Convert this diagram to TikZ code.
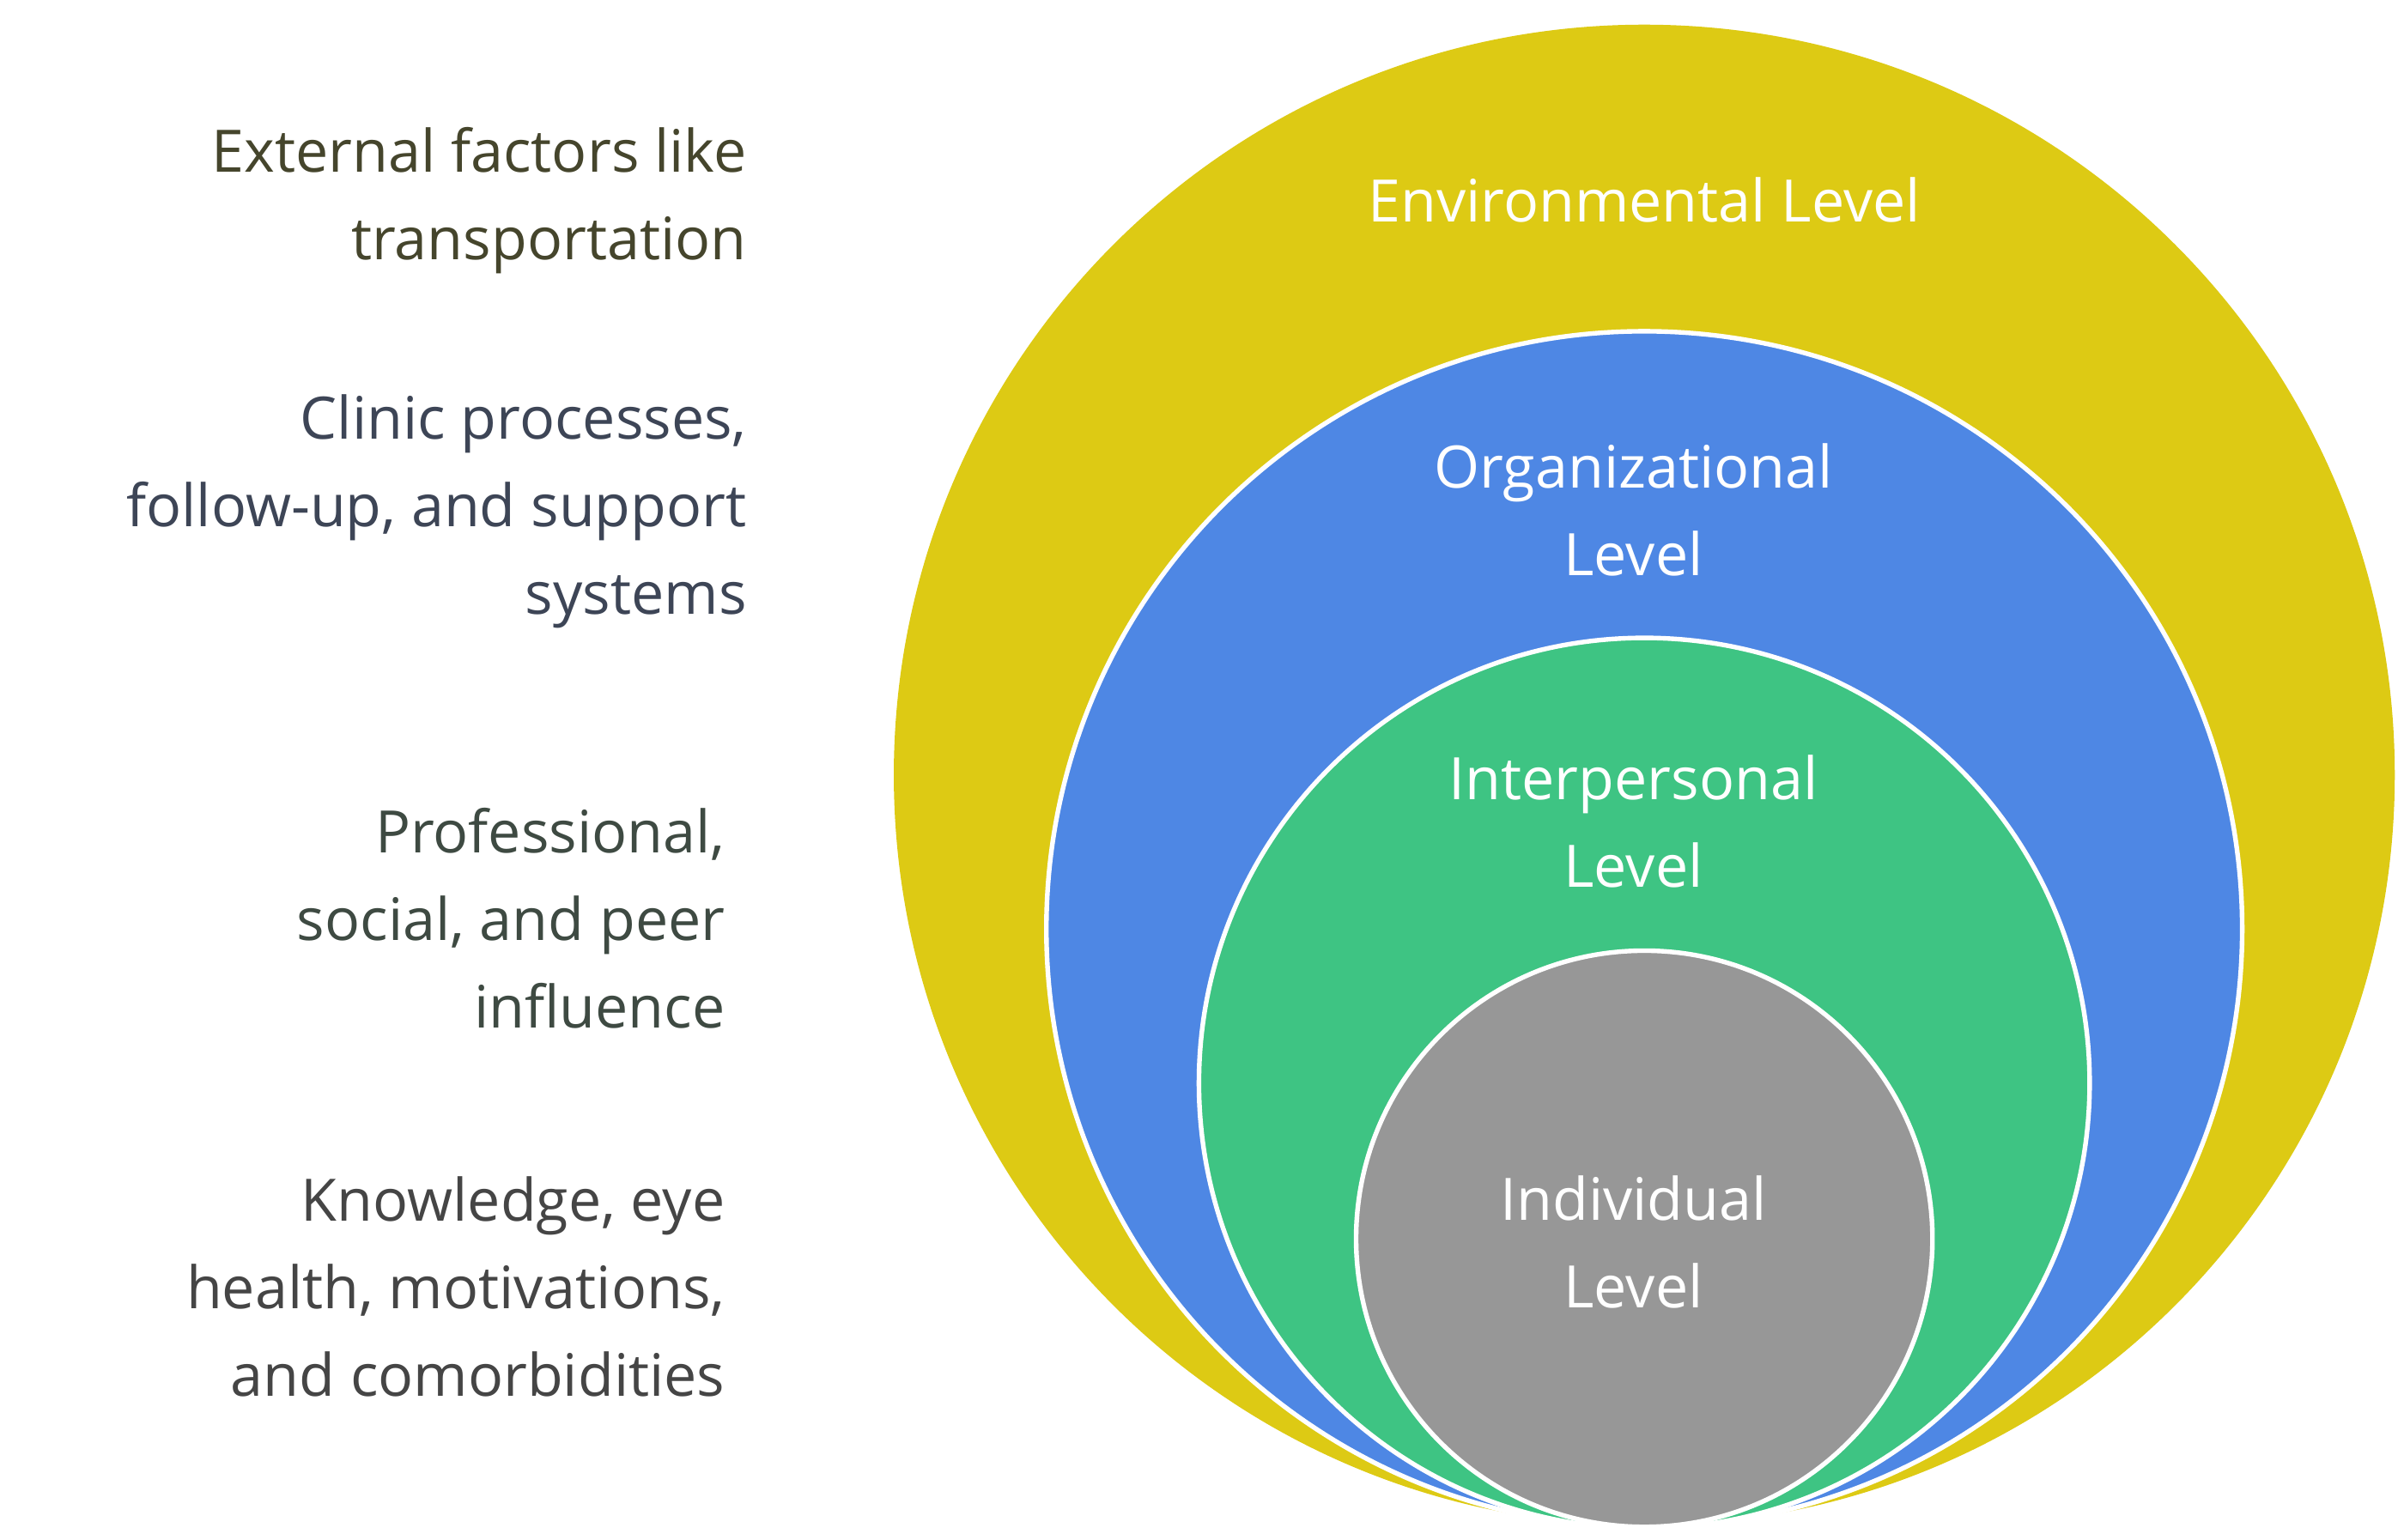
\documentclass[tikz,border=0pt]{standalone}
\usepackage{fontspec}
\setmainfont{Open Sans}
\definecolor{cy}{HTML}{DDCA14}
\definecolor{cb}{HTML}{4E87E4}
\definecolor{cg}{HTML}{3EC483}
\definecolor{cgr}{HTML}{979797}
\definecolor{t1}{HTML}{45452C}
\definecolor{t2}{HTML}{3D4556}
\definecolor{t3}{HTML}{3E4A42}
\definecolor{t4}{HTML}{454545}
\begin{document}
\begin{tikzpicture}[x=1pt,y=-1pt,
  ring/.style={draw=white,line width=3pt},
  lvl/.style={text=white,align=center,font=\fontsize{38}{57}\selectfont},
  side/.style={anchor=east,align=right,font=\fontsize{38}{57}\selectfont}]
\useasboundingbox (0,0) rectangle (1560,999);
\fill[cy] (1067,503) circle (487);
\draw[ring,fill=cb] (1067,603) circle (388);
\draw[ring,fill=cg] (1067,703) circle (289);
\draw[ring,fill=cgr] (1067,804) circle (187);
\node[lvl] (env) at (1067,130) {Environmental Level};
\node[lvl] (org) at (1060,331) {Organizational\\Level};
\node[lvl] (int) at (1060,533) {Interpersonal\\Level};
\node[lvl] (ind) at (1060,806) {Individual\\Level};
\node[side,text=t1] (e) at (488,130) {External factors like\\transportation};
\node[side,text=t2] (c) at (488,332) {Clinic processes,\\follow-up, and support\\systems};
\node[side,text=t3] (p) at (474,596) {Professional,\\social, and peer\\influence};
\node[side,text=t4] (k) at (474,835) {Knowledge, eye\\health, motivations,\\and comorbidities};
\end{tikzpicture}
\end{document}
